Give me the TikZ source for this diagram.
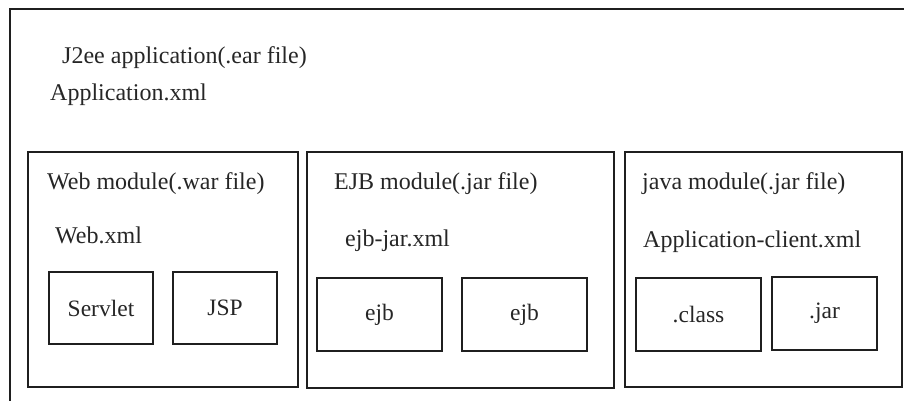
\documentclass[tikz,border=0pt]{standalone}
\usepackage{fontspec}
\setmainfont{Liberation Serif}
\begin{document}
\begin{tikzpicture}[x=1pt,y=-1pt,
  frame/.style={draw=black!88,line width=1.6pt},
  module/.style={frame,rectangle,inner sep=0pt},
  part/.style={frame,rectangle,inner sep=0pt,minimum height=73pt,font=\fontsize{23.5}{28}\selectfont,text=black!85},
  caption/.style={anchor=base west,inner sep=0pt,font=\fontsize{24}{28}\selectfont,text=black!85}]
  \useasboundingbox (0,0) rectangle (904,401);
  \begin{scope}
    \clip (0,0) rectangle (904,401);
    % the enclosing .ear application, running past the page edges
    \node[module,minimum width=920pt,minimum height=420pt,anchor=north west] (ear) at (9,8) {};
  \end{scope}
  \node[caption] (eartitle) at (62,64) {J2ee application(.ear file)};
  \node[caption] (earxml) at (50,101) {Application.xml};

  % web module
  \node[module,minimum width=270pt,minimum height=235pt] (web) at (163,269.5) {};
  \node[caption] (webtitle) at (47,189) {Web module(.war file)};
  \node[caption] (webxml) at (55,243) {Web.xml};
  \node[part,minimum width=104pt,minimum height=72pt] (servlet) at (101,308) {Servlet};
  \node[part,minimum width=104pt,minimum height=72pt] (jsp) at (225,308) {JSP};

  % EJB module
  \node[module,minimum width=307pt,minimum height=236pt] (ejbmod) at (460.5,270) {};
  \node[caption] (ejbtitle) at (334,189) {EJB module(.jar file)};
  \node[caption] (ejbxml) at (345,246) {ejb-jar.xml};
  \node[part,minimum width=125pt] (ejba) at (379.5,314.5) {ejb};
  \node[part,minimum width=125pt] (ejbb) at (524.5,314.5) {ejb};

  % java client module
  \node[module,minimum width=277pt,minimum height=235pt] (javamod) at (763.5,269.5) {};
  \node[caption] (javatitle) at (642,189) {java module(.jar file)};
  \node[caption] (javaxml) at (643,247) {Application-client.xml};
  \node[part,minimum width=125pt] (classes) at (698.5,314.5) {.class};
  \node[part,minimum width=105pt] (jars) at (824.5,313.5) {.jar};
\end{tikzpicture}
\end{document}
